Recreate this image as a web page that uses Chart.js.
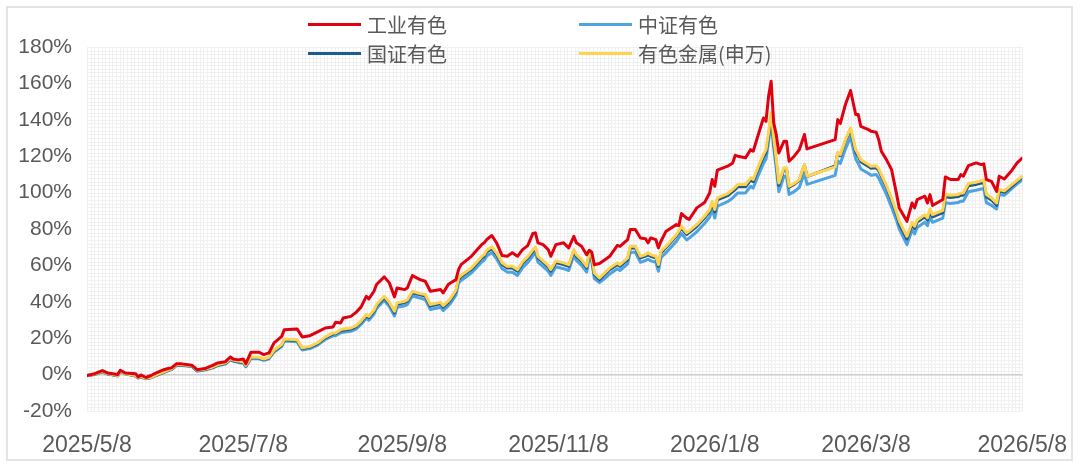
<!DOCTYPE html>
<html>
<head>
<meta charset="utf-8">
<script src="https://cdn.jsdelivr.net/npm/chart.js@4.4.1/dist/chart.umd.min.js"></script>
<style>
  html, body { margin: 0; padding: 0; background: #fff; }
  #wrap { position: relative; width: 1080px; height: 469px; overflow: hidden; }
  #frame { position: absolute; left: 6px; top: 6px; width: 1063px; height: 451px;
           border: 2px solid #e4e4e4; pointer-events: none; }
  #legend { position: absolute; left: 308px; top: 10px; display: grid;
            grid-template-columns: 271px 271px; grid-auto-rows: 29px;
            font: 20px "Noto Sans CJK SC", "Noto Sans", sans-serif; color: #595959; }
  #legend .item { display: flex; align-items: center; white-space: nowrap; }
  #legend .swatch { width: 53px; height: 3px; margin-right: 6px; }
</style>
</head>
<body>
<div id="wrap">
  <canvas id="chart" width="1080" height="469"></canvas>
  <div id="legend"></div>
  <div id="frame"></div>
</div>
<script>
// dates (trading days)
const dates = [
  '2025/5/8','2025/5/11','2025/5/14','2025/5/16','2025/5/20','2025/5/21','2025/5/23','2025/5/27','2025/5/28','2025/5/29',
  '2025/5/31','2025/6/2','2025/6/4','2025/6/7','2025/6/9','2025/6/10','2025/6/12','2025/6/14','2025/6/18','2025/6/20',
  '2025/6/23','2025/6/26','2025/6/28','2025/7/1','2025/7/3','2025/7/4','2025/7/6','2025/7/8','2025/7/9','2025/7/11',
  '2025/7/14','2025/7/16','2025/7/18','2025/7/20','2025/7/23','2025/7/24','2025/7/29','2025/7/31','2025/8/3','2025/8/6',
  '2025/8/9','2025/8/12','2025/8/13','2025/8/15','2025/8/16','2025/8/19','2025/8/21','2025/8/23','2025/8/25','2025/8/26',
  '2025/8/28','2025/8/29','2025/9/1','2025/9/3','2025/9/5','2025/9/6','2025/9/9','2025/9/10','2025/9/12','2025/9/15',
  '2025/9/17','2025/9/19','2025/9/23','2025/9/24','2025/9/26','2025/9/27','2025/9/29','2025/9/30','2025/10/1','2025/10/5',
  '2025/10/9','2025/10/10','2025/10/11','2025/10/13','2025/10/15','2025/10/17','2025/10/19','2025/10/21','2025/10/23','2025/10/25',
  '2025/10/27','2025/10/29','2025/10/30','2025/10/31','2025/11/2','2025/11/4','2025/11/5','2025/11/7','2025/11/10','2025/11/12',
  '2025/11/14','2025/11/15','2025/11/17','2025/11/19','2025/11/20','2025/11/21','2025/11/22','2025/11/24','2025/11/26','2025/11/28',
  '2025/12/1','2025/12/2','2025/12/5','2025/12/6','2025/12/8','2025/12/10','2025/12/12','2025/12/13','2025/12/14','2025/12/16',
  '2025/12/17','2025/12/18','2025/12/20','2025/12/24','2025/12/25','2025/12/26','2025/12/28','2025/12/29','2026/1/1','2026/1/4',
  '2026/1/6','2026/1/7','2026/1/8','2026/1/9','2026/1/13','2026/1/15','2026/1/16','2026/1/17','2026/1/20','2026/1/22',
  '2026/1/23','2026/1/25','2026/1/27','2026/1/28','2026/1/29','2026/1/30','2026/1/31','2026/2/1','2026/2/2','2026/2/4',
  '2026/2/5','2026/2/6','2026/2/8','2026/2/10','2026/2/12','2026/2/13','2026/2/24','2026/2/25','2026/2/26','2026/2/28',
  '2026/3/2','2026/3/4','2026/3/5','2026/3/6','2026/3/9','2026/3/10','2026/3/12','2026/3/13','2026/3/14','2026/3/16',
  '2026/3/18','2026/3/20','2026/3/21','2026/3/24','2026/3/26','2026/3/27','2026/3/28','2026/3/31','2026/4/1','2026/4/2',
  '2026/4/3','2026/4/7','2026/4/8','2026/4/10','2026/4/13','2026/4/14','2026/4/15','2026/4/17','2026/4/20','2026/4/22',
  '2026/4/23','2026/4/24','2026/4/26','2026/4/28','2026/4/29','2026/5/1','2026/5/4','2026/5/6','2026/5/8'
];

// 工业有色 (%)
const gongye = [
  -0.5, 0.5, 2.2, 0.9, 0.0, 2.4, 0.9, 0.5, -1.3, -0.2,
  -1.6, -0.5, 0.9, 2.7, 3.5, 3.7, 6.0, 5.9, 5.1, 2.7,
  3.3, 5.1, 6.4, 7.1, 9.7, 8.6, 8.1, 8.6, 6.0, 12.3,
  12.3, 11.0, 11.9, 17.4, 21.0, 24.7, 25.1, 20.7, 21.4, 23.5,
  25.6, 26.2, 28.7, 28.4, 31.1, 32.0, 34.2, 37.2, 43.0, 41.6,
  45.8, 49.5, 53.7, 50.4, 42.7, 47.6, 46.7, 47.6, 54.4, 52.2,
  51.3, 45.8, 46.7, 44.9, 49.5, 50.5, 52.2, 57.7, 60.4, 65.0,
  71.4, 72.4, 74.2, 76.4, 72.0, 65.4, 65.0, 66.9, 65.0, 68.7,
  70.9, 77.5, 77.9, 72.4, 71.4, 68.7, 65.0, 71.4, 72.4, 69.6,
  76.0, 72.4, 70.5, 65.9, 68.3, 67.2, 60.4, 61.0, 63.0, 65.0,
  71.0, 70.5, 74.2, 79.7, 79.7, 75.1, 74.6, 72.4, 75.1, 74.2,
  69.6, 73.3, 78.8, 82.4, 81.9, 88.5, 86.0, 85.2, 91.6, 94.5,
  99.8, 107.2, 103.5, 112.3, 114.5, 116.3, 120.5, 120.0, 119.1, 123.6,
  122.7, 131.9, 141.0, 139.2, 152.9, 161.2, 138.3, 131.9, 121.8, 128.2,
  128.2, 117.2, 120.0, 123.6, 131.9, 124.0, 129.1, 140.1, 138.0, 148.4,
  156.1, 142.9, 142.9, 136.4, 134.6, 133.7, 133.2, 129.1, 122.7, 118.1,
  112.6, 98.9, 91.6, 84.2, 94.3, 91.6, 96.2, 98.0, 94.3, 98.9,
  92.9, 96.2, 108.6, 107.2, 107.2, 109.9, 109.0, 114.8, 116.3, 115.4,
  115.8, 107.2, 106.2, 100.7, 109.0, 107.5, 112.3, 116.3, 119.0
];

// 中证有色 (%)
const zhongzheng = [
  -0.6, 0.0, 1.5, 0.3, -0.7, 1.9, 0.3, -0.8, -1.9, -1.3,
  -2.3, -1.8, -0.5, 1.1, 2.3, 2.8, 5.0, 5.0, 4.4, 1.9,
  2.5, 3.6, 4.9, 5.8, 8.1, 7.3, 6.7, 6.2, 4.3, 8.9,
  8.7, 7.8, 8.6, 12.4, 15.4, 18.5, 18.0, 13.5, 14.3, 16.2,
  19.3, 21.3, 21.4, 23.0, 23.3, 23.8, 25.0, 27.6, 31.0, 29.8,
  33.3, 36.3, 40.7, 37.4, 32.2, 37.0, 37.8, 38.5, 43.2, 42.0,
  41.3, 35.8, 37.0, 35.2, 37.8, 39.4, 43.8, 50.3, 51.7, 55.8,
  61.8, 62.8, 65.2, 67.0, 63.3, 58.3, 56.3, 56.3, 54.5, 58.8,
  61.5, 65.2, 67.0, 61.8, 59.3, 56.8, 54.5, 59.3, 58.2, 57.2,
  65.5, 62.7, 60.0, 56.3, 64.0, 62.0, 52.8, 50.5, 52.8, 55.3,
  58.2, 57.2, 60.8, 67.2, 67.2, 61.7, 62.7, 63.4, 62.5, 61.7,
  56.8, 64.2, 67.0, 73.2, 75.2, 77.5, 74.0, 75.0, 78.5, 83.0,
  86.5, 91.0, 86.0, 92.5, 95.0, 97.0, 98.5, 99.8, 99.8, 103.5,
  102.5, 109.5, 116.0, 118.5, 128.0, 139.2, 124.5, 113.0, 100.5, 109.0,
  109.0, 99.0, 100.5, 102.8, 110.8, 104.5, 109.5, 117.5, 116.0, 124.0,
  130.5, 118.5, 116.0, 113.0, 110.5, 109.5, 110.0, 108.0, 105.0, 99.0,
  92.0, 84.5, 80.0, 71.4, 79.5, 77.3, 80.8, 83.7, 81.8, 86.7,
  83.7, 86.0, 94.5, 94.0, 94.5, 95.3, 95.3, 100.5, 101.3, 102.0,
  102.3, 94.5, 93.0, 91.0, 99.0, 98.5, 102.3, 104.8, 107.0
];

// 国证有色 (%)
const guozheng = [
  -0.5, 0.2, 1.6, 0.4, -0.6, 2.0, 0.4, -0.6, -1.7, -1.1,
  -2.1, -1.6, -0.3, 1.3, 2.5, 3.0, 5.3, 5.2, 4.7, 2.2,
  2.8, 4.0, 5.2, 6.2, 8.5, 7.7, 7.1, 6.7, 4.8, 9.4,
  9.2, 8.3, 9.2, 13.1, 16.1, 19.2, 18.8, 14.3, 15.1, 17.0,
  20.2, 22.4, 22.4, 24.1, 24.4, 25.0, 26.3, 28.9, 32.3, 31.3,
  34.8, 37.8, 42.2, 39.0, 34.0, 38.6, 39.6, 40.3, 45.0, 43.8,
  43.2, 37.7, 38.9, 37.1, 39.7, 41.3, 45.7, 52.3, 53.7, 57.8,
  63.9, 65.0, 67.4, 69.3, 65.6, 60.6, 58.6, 58.6, 56.8, 61.1,
  63.9, 67.6, 69.3, 64.1, 61.6, 59.1, 56.8, 61.6, 60.5, 59.5,
  67.8, 65.0, 62.3, 58.6, 66.0, 64.0, 55.0, 52.2, 55.0, 57.6,
  60.5, 59.5, 63.2, 69.6, 69.6, 64.1, 65.1, 65.8, 65.0, 64.1,
  59.5, 66.9, 69.8, 76.2, 78.2, 80.5, 77.0, 78.0, 81.5, 86.0,
  89.7, 94.2, 89.5, 96.0, 98.3, 100.5, 101.8, 103.2, 103.2, 106.9,
  106.0, 113.2, 119.5, 122.0, 131.0, 141.5, 128.0, 116.5, 104.0, 113.0,
  113.0, 103.0, 104.5, 106.8, 115.2, 108.8, 114.6, 121.8, 120.3, 128.3,
  134.5, 122.5, 120.0, 117.0, 114.3, 113.4, 113.7, 112.0, 109.0, 103.0,
  96.0, 88.0, 83.0, 74.5, 82.5, 80.3, 83.8, 86.7, 84.9, 89.8,
  86.7, 89.0, 97.7, 97.3, 97.8, 98.6, 98.6, 103.8, 104.5, 105.3,
  105.6, 97.7, 96.0, 93.0, 100.8, 100.2, 103.6, 106.0, 108.3
];

// 有色金属(申万) (%)
const shenwan = [
  -0.5, 0.3, 1.8, 0.6, -0.5, 2.2, 0.5, -0.5, -1.6, -1.0,
  -2.0, -1.5, -0.2, 1.5, 2.7, 3.2, 5.5, 5.4, 4.9, 2.4,
  3.0, 4.2, 5.5, 6.5, 8.8, 8.0, 7.4, 7.0, 5.1, 9.7,
  9.5, 8.6, 9.5, 13.5, 16.5, 19.6, 19.2, 14.7, 15.5, 17.5,
  20.7, 22.9, 22.9, 24.7, 25.0, 25.6, 26.9, 29.5, 33.0, 32.0,
  35.5, 38.5, 43.0, 39.7, 34.8, 39.4, 40.3, 41.0, 45.8, 44.5,
  44.0, 38.5, 39.7, 37.9, 40.5, 42.1, 46.5, 53.1, 54.5, 58.6,
  64.8, 65.9, 68.3, 70.2, 66.5, 61.5, 59.5, 59.5, 57.7, 62.0,
  64.8, 68.5, 70.2, 65.0, 62.5, 60.0, 57.7, 62.5, 61.4, 60.4,
  68.7, 65.9, 63.2, 59.5, 67.0, 65.0, 55.9, 53.1, 55.9, 58.5,
  61.4, 60.4, 64.1, 70.5, 70.5, 65.0, 66.0, 66.9, 65.9, 65.0,
  60.4, 67.8, 70.5, 76.9, 79.0, 81.5, 77.9, 79.0, 82.5, 87.0,
  90.7, 95.2, 90.7, 97.1, 99.5, 101.7, 103.0, 104.4, 104.4, 108.1,
  107.2, 114.5, 121.0, 123.6, 133.0, 144.0, 130.0, 118.1, 105.3, 113.6,
  113.6, 103.5, 105.0, 107.2, 115.4, 109.0, 114.1, 122.2, 120.9, 129.1,
  135.6, 123.6, 121.0, 118.1, 115.4, 114.5, 114.8, 113.0, 110.0, 104.0,
  97.0, 89.0, 84.5, 76.0, 83.7, 81.5, 85.0, 87.9, 86.1, 91.0,
  87.9, 90.3, 98.9, 98.5, 99.0, 99.8, 99.8, 105.0, 105.7, 106.5,
  106.8, 98.9, 97.1, 94.3, 101.7, 101.0, 104.5, 106.8, 109.0
];

const seriesNames = ['工业有色', '中证有色', '国证有色', '有色金属(申万)'];
const seriesColors = ['#e00010', '#4ea3e0', '#1d5b8c', '#ffd34e'];
const seriesValues = [gongye, zhongzheng, guozheng, shenwan];
const drawOrder = [1, 4, 3, 2]; // red on top, light blue at the bottom

const tickLabels = ['2025/5/8', '2025/7/8', '2025/9/8', '2025/11/8', '2026/1/8', '2026/3/8', '2026/5/8'];
const yTicks = [-20, 0, 20, 40, 60, 80, 100, 120, 140, 160, 180];

// days since the first date, so the x axis is a real date axis
function toDay(s) {
  const p = s.split('/').map(Number);
  return Math.round((Date.UTC(p[0], p[1] - 1, p[2]) - Date.UTC(2025, 4, 8)) / 86400000);
}
const dayPos = dates.map(toDay);
const tickDays = tickLabels.map(toDay);

// faint fine grid behind the plot, like the original
const gridTexture = {
  id: 'gridTexture',
  beforeDraw(chart) {
    const { ctx, chartArea: a } = chart;
    const step = (a.bottom - a.top) / 100;
    ctx.save();
    ctx.strokeStyle = '#f0f0f0';
    ctx.lineWidth = 1;
    ctx.beginPath();
    for (let y = a.top; y <= a.bottom + 0.5; y += step) {
      const yy = Math.round(y) + 0.5;
      ctx.moveTo(a.left, yy); ctx.lineTo(a.right, yy);
    }
    for (let x = a.left; x <= a.right + 0.5; x += step) {
      const xx = Math.round(x) + 0.5;
      ctx.moveTo(xx, a.top); ctx.lineTo(xx, a.bottom);
    }
    ctx.stroke();
    ctx.restore();
  }
};

const datasets = seriesNames.map((name, i) => ({
  label: name,
  data: seriesValues[i].map((v, j) => ({ x: dayPos[j], y: v })),
  borderColor: seriesColors[i],
  backgroundColor: seriesColors[i],
  borderWidth: 3,
  pointRadius: 0,
  tension: 0,
  borderJoinStyle: 'round',
  borderCapStyle: 'round',
  order: drawOrder[i]
}));

new Chart(document.getElementById('chart'), {
  type: 'line',
  data: { datasets },
  options: {
    responsive: false,
    animation: false,
    devicePixelRatio: 1,
    layout: { padding: { top: 47, right: 55, left: 0, bottom: 0 } },
    plugins: { legend: { display: false }, tooltip: { enabled: false } },
    scales: {
      x: {
        type: 'linear',
        min: 0,
        max: tickDays[tickDays.length - 1],
        afterBuildTicks: (scale) => { scale.ticks = tickDays.map(v => ({ value: v })); },
        afterFit: (scale) => { scale.height = 58; },
        ticks: {
          autoSkip: false,
          maxRotation: 0,
          padding: 13,
          color: '#595959',
          font: { family: 'Liberation Sans, Arial, sans-serif', size: 23 },
          callback: (v) => tickLabels[tickDays.indexOf(v)]
        },
        grid: { display: false },
        border: { display: false }
      },
      y: {
        min: -20,
        max: 180,
        afterBuildTicks: (scale) => { scale.ticks = yTicks.map(v => ({ value: v })); },
        afterFit: (scale) => { scale.width = 87; },
        ticks: {
          padding: 15,
          color: '#595959',
          font: { family: 'Liberation Sans, Arial, sans-serif', size: 21 },
          callback: (v) => v + '%'
        },
        grid: {
          drawTicks: false,
          lineWidth: 1.5,
          color: (c) => (c.tick && c.tick.value === 0 ? '#cfcfcf' : 'rgba(0,0,0,0)')
        },
        border: { display: false }
      }
    }
  },
  plugins: [gridTexture]
});

// legend: two columns, two rows
const legendOrder = [0, 1, 2, 3];
document.getElementById('legend').innerHTML = legendOrder.map(i =>
  '<div class="item"><span class="swatch" style="background:' + seriesColors[i] + '"></span>' +
  seriesNames[i] + '</div>').join('');
</script>
</body>
</html>
